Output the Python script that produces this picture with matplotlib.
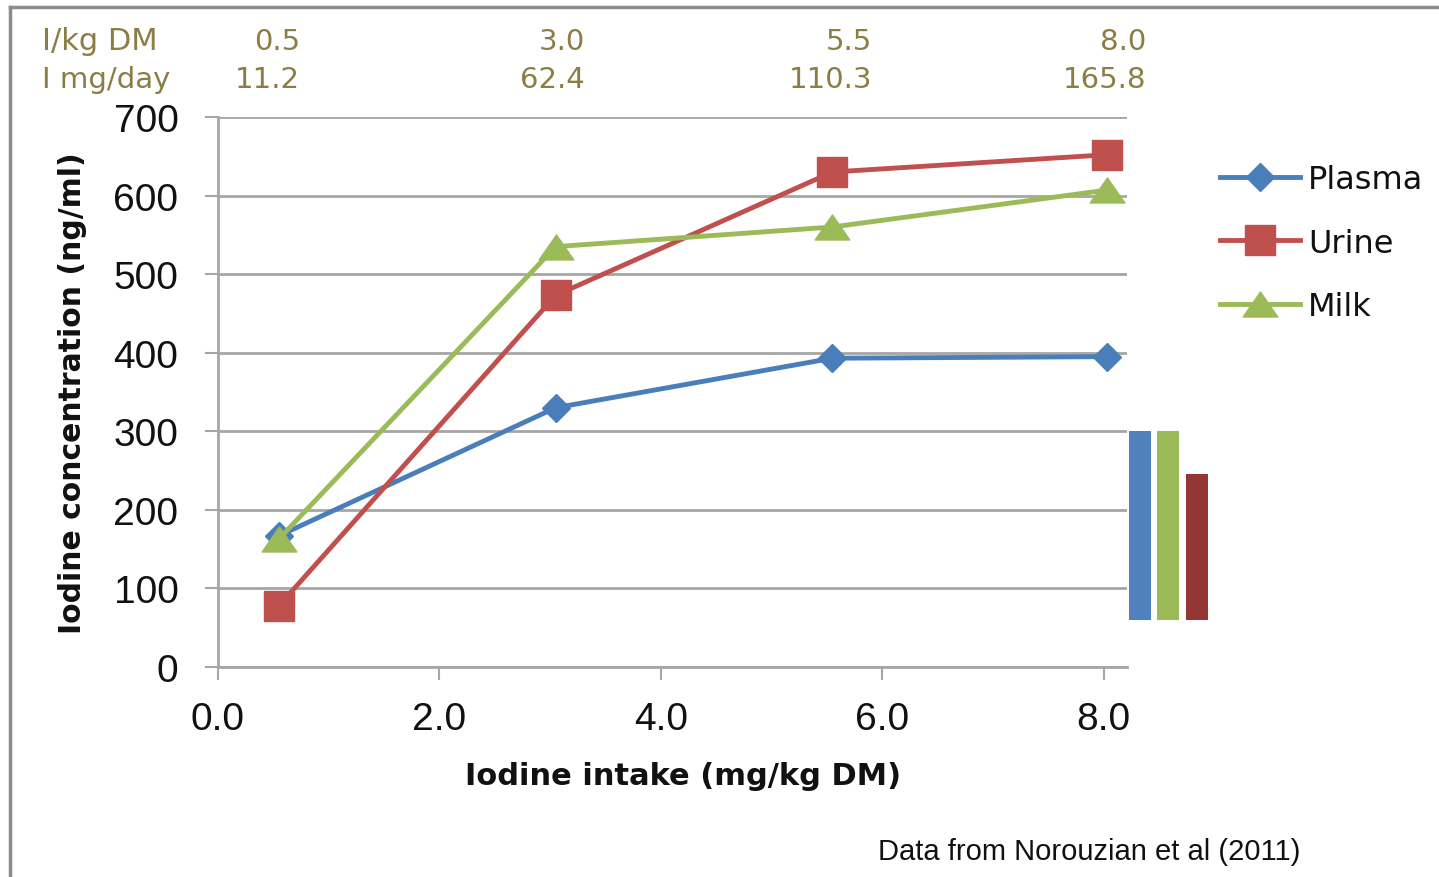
import matplotlib
matplotlib.use("Agg")
import matplotlib.pyplot as plt
from matplotlib.lines import Line2D
from matplotlib.path import Path

# ---- data ----
intake = [0.55, 3.05, 5.55, 8.03]
plasma = [167, 330, 393, 395]
urine = [78, 473, 630, 652]
milk = [163, 535, 560, 607]

top_row1_label = "I/kg DM"
top_row2_label = "I mg/day"
top_row1 = ["0.5", "3.0", "5.5", "8.0"]
top_row2 = ["11.2", "62.4", "110.3", "165.8"]

bar_x = [8.33, 8.58, 8.84]
bar_bottom = 60
bar_top = [300, 300, 246]
bar_colors = ["#4F81BD", "#9BBB59", "#943634"]

xticks = [0, 2, 4, 6, 8]
yticks = [0, 100, 200, 300, 400, 500, 600, 700]

C_PLASMA = "#4A7EBB"
C_URINE = "#C0504D"
C_MILK = "#9BBB59"
OLIVE = "#8C7D45"
GRID = "#A6A6A6"

W, H = 1439, 878
fig = plt.figure(figsize=(W / 100, H / 100), dpi=100)
fig.patch.set_facecolor("white")

ax = fig.add_axes([218 / W, 1 - 668 / H, (1127 - 218) / W, (668 - 118) / H])
ax.set_xlim(0, 8.21)
ax.set_ylim(0, 700)

tri = Path([(0, 0.72), (-1, -0.72), (1, -0.72), (0, 0.72)],
           [Path.MOVETO, Path.LINETO, Path.LINETO, Path.CLOSEPOLY])

ax.plot(intake, plasma, color=C_PLASMA, lw=3.5, marker="D", ms=14.5,
        label="Plasma", zorder=4, clip_on=False)
ax.plot(intake, urine, color=C_URINE, lw=3.5, marker="s", ms=21.5,
        label="Urine", zorder=5, clip_on=False)
ax.plot(intake, milk, color=C_MILK, lw=3.5, marker=tri, ms=25,
        label="Milk", zorder=6, clip_on=False)

for xc, top, col in zip(bar_x, bar_top, bar_colors):
    ax.bar(xc, top - bar_bottom, bottom=bar_bottom, width=0.2, color=col,
           clip_on=False, zorder=3)

ax.set_yticks(yticks)
ax.set_xticks(xticks)
ax.set_xticklabels([f"{v:.1f}" for v in xticks])
ax.grid(axis="y", color=GRID, lw=2)
ax.set_axisbelow(True)
for s in ["top", "right"]:
    ax.spines[s].set_visible(False)
for s in ["left", "bottom"]:
    ax.spines[s].set_color(GRID)
    ax.spines[s].set_linewidth(2)
ax.tick_params(axis="both", color=GRID, width=1.5, length=9.5,
               labelsize=28, labelcolor="#111111")
ax.tick_params(axis="y", pad=19)
ax.tick_params(axis="x", pad=15)
for lab in ax.get_xticklabels() + ax.get_yticklabels():
    lab.set_family("Liberation Sans")

leg = ax.legend(loc="upper left", bbox_to_anchor=(1220 / W, 1 - 165 / H),
                bbox_transform=fig.transFigure, frameon=False,
                prop={"family": "DejaVu Sans", "size": 23},
                handlelength=2.5, handletextpad=0.25, labelspacing=1.02,
                borderpad=0, borderaxespad=0)
for t in leg.get_texts():
    t.set_color("#111111")

fig.text(73 / W, 1 - 393 / H, "Iodine concentration (ng/ml)", rotation=90,
         ha="center", va="center", fontsize=21.5, fontweight="bold",
         family="DejaVu Sans", color="#111111")
fig.text(683 / W, 1 - 777 / H, "Iodine intake (mg/kg DM)", ha="center",
         va="center", fontsize=22, fontweight="bold", family="DejaVu Sans",
         color="#111111")
fig.text(1089 / W, 1 - 852 / H, "Data from Norouzian et al (2011)",
         ha="center", va="center", fontsize=21, family="Liberation Sans",
         color="#111111")

# top labels
fig.text(42 / W, 1 - 42 / H, top_row1_label, ha="left", va="center",
         fontsize=22, family="DejaVu Sans", color=OLIVE)
fig.text(42 / W, 1 - 80 / H, top_row2_label, ha="left", va="center",
         fontsize=21, family="DejaVu Sans", color=OLIVE)
right_px = [300, 585, 872, 1146]
for rx, a, b in zip(right_px, top_row1, top_row2):
    fig.text(rx / W, 1 - 42 / H, a, ha="right", va="center", fontsize=21,
             family="DejaVu Sans", color=OLIVE)
    fig.text(rx / W, 1 - 80 / H, b, ha="right", va="center", fontsize=21,
             family="DejaVu Sans", color=OLIVE)

# frame lines
fig.add_artist(Line2D([10 / W, 1], [1 - 8 / H, 1 - 8 / H], color="#8C8C8C",
                      lw=2.5, transform=fig.transFigure))
fig.add_artist(Line2D([10 / W, 10 / W], [0, 1 - 8 / H], color="#8C8C8C",
                      lw=2.5, transform=fig.transFigure))

fig.savefig("out.png", dpi=100)
